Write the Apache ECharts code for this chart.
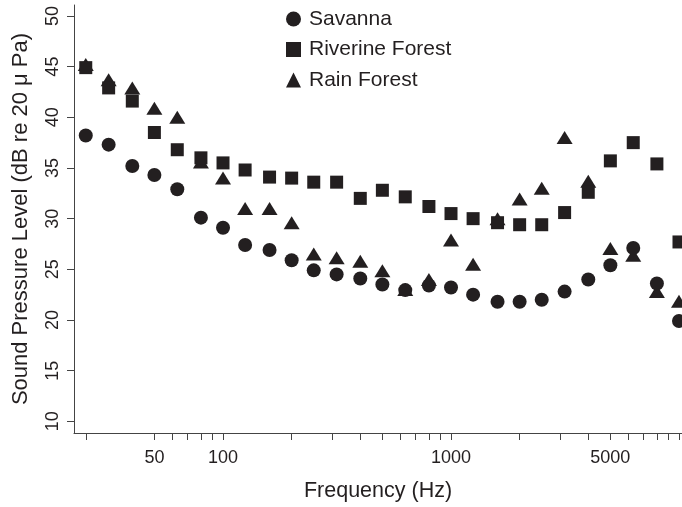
<!DOCTYPE html>
<html>
<head>
<meta charset="utf-8">
<script src="https://cdn.jsdelivr.net/npm/echarts@6/dist/echarts.min.js"></script>
<style>
html,body{margin:0;padding:0;background:#fff;}
#chart{width:682px;height:507px;}
</style>
</head>
<body>
<div id="chart"></div>
<script>
// 1/3-octave band centre frequencies (Hz)
var frequencies = [25, 31.5, 40, 50, 63, 80, 100, 125, 160, 200, 250, 315, 400, 500, 630, 800, 1000, 1250, 1600, 2000, 2500, 3150, 4000, 5000, 6300, 8000, 10000];
var savanna = [38.2, 37.3, 35.2, 34.3, 32.9, 30.1, 29.1, 27.4, 26.9, 25.9, 24.9, 24.5, 24.1, 23.5, 22.95, 23.4, 23.2, 22.5, 21.8, 21.8, 22.0, 22.8, 24.0, 25.4, 27.1, 23.6, 19.9];
var riverineForest = [44.9, 42.9, 41.6, 38.5, 36.8, 36.0, 35.5, 34.8, 34.1, 34.0, 33.6, 33.6, 32.0, 32.8, 32.15, 31.2, 30.5, 30.0, 29.6, 29.4, 29.4, 30.6, 32.6, 35.7, 37.5, 35.4, 27.7];
var rainForest = [45.2, 43.7, 42.9, 40.9, 40.0, 35.6, 34.0, 31.0, 31.0, 29.6, 26.5, 26.15, 25.8, 24.85, 23.0, 24.0, 27.9, 25.5, 30.0, 31.95, 33.0, 38.0, 33.7, 27.05, 26.4, 22.8, 21.85];
var xTickValues = [25, 50, 60, 70, 80, 90, 100, 200, 300, 400, 500, 600, 700, 800, 900, 1000, 2000, 3000, 4000, 5000, 6000, 7000, 8000, 9000, 10000];
var xLabelValues = [50, 100, 1000, 5000];
var yTickValues = [10, 15, 20, 25, 30, 35, 40, 45, 50];

var FONT = '"Liberation Sans", Arial, Helvetica, sans-serif';
var INK = '#231f20';
function pairs(vals){ return frequencies.map(function(f,i){ return [Math.log10(f), vals[i]]; }); }

var chart = echarts.init(document.getElementById('chart'), null, {renderer:'canvas'});
chart.setOption({
  animation: false,
  backgroundColor: '#fff',
  textStyle: {fontFamily: FONT, color: INK},
  grid: {left: 74, right: 0, top: 5, bottom: 70, containLabel: false},
  legend: {
    orient: 'vertical', left: 281, top: 2, itemGap: 6.5,
    itemWidth: 15, itemHeight: 15,
    textStyle: {fontFamily: FONT, fontSize: 21, color: INK, lineHeight: 24, padding: [0,0,0,3]},
    data: [
      {name: 'Savanna', icon: 'circle'},
      {name: 'Riverine Forest', icon: 'rect'},
      {name: 'Rain Forest', icon: 'triangle'}
    ]
  },
  xAxis: {
    type: 'value',
    min: Math.log10(22.2), max: 4.0132,
    name: 'Frequency (Hz)', nameLocation: 'middle', nameGap: 47,
    nameTextStyle: {fontFamily: FONT, fontSize: 21.5, color: INK},
    axisLine: {show: true, lineStyle: {color: '#444', width: 1}},
    axisTick: {show: true, length: 7, lineStyle: {color: '#444'}, customValues: xTickValues.map(Math.log10)},
    axisLabel: {show: true, margin: 16, fontSize: 18, color: INK, fontFamily: FONT,
      customValues: xLabelValues.map(Math.log10),
      formatter: function(v){ return String(Math.round(Math.pow(10, v))); }},
    splitLine: {show: false}
  },
  yAxis: {
    type: 'value',
    min: 8.85, max: 51.08,
    name: 'Sound Pressure Level (dB re 20 \u03bc Pa)', nameLocation: 'middle', nameGap: 42,
    nameTextStyle: {fontFamily: FONT, fontSize: 22, color: INK},
    axisLine: {show: true, lineStyle: {color: '#444', width: 1}},
    axisTick: {show: true, length: 7, lineStyle: {color: '#444'}, customValues: yTickValues},
    axisLabel: {show: true, rotate: 90, margin: 12, fontSize: 18, color: INK, fontFamily: FONT, customValues: yTickValues},
    splitLine: {show: false}
  },
  series: [
    {name: 'Savanna', type: 'scatter', symbol: 'circle', symbolSize: 14, z: 4,
      itemStyle: {color: INK, opacity: 1}, data: pairs(savanna)},
    {name: 'Riverine Forest', type: 'scatter', symbol: 'rect', symbolSize: 13, z: 3,
      itemStyle: {color: INK, opacity: 1}, data: pairs(riverineForest)},
    {name: 'Rain Forest', type: 'scatter', symbol: 'triangle', symbolSize: [16, 13], z: 2,
      itemStyle: {color: INK, opacity: 1}, data: pairs(rainForest)}
  ]
});
</script>
</body>
</html>
